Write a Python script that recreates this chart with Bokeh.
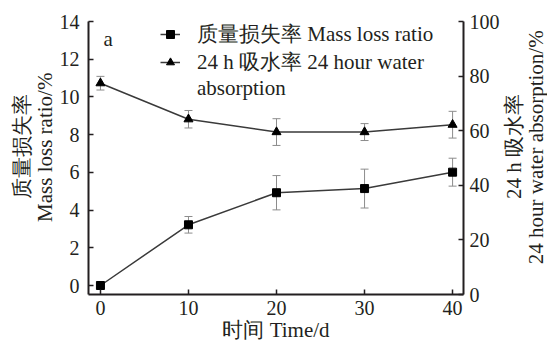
import math
from bokeh.plotting import figure
from bokeh.layouts import row
from bokeh.models import (Range1d, LinearAxis, FixedTicker, ColumnDataSource, Whisker,
                          TeeHead, Legend, LegendItem, Label)
from bokeh.embed import file_html
from bokeh.resources import INLINE

# ---- data ----
days = [0, 10, 20, 30, 40]
mass_loss = [0.0, 3.22, 4.92, 5.14, 6.01]
mass_err = [0.1, 0.44, 0.91, 1.03, 0.74]
water_abs = [77.4, 64.2, 59.5, 59.5, 62.2]
water_err = [2.5, 3.2, 4.9, 3.1, 4.9]

x_ticks = [0, 10, 20, 30, 40]
left_ticks = [0, 2, 4, 6, 8, 10, 12, 14]
right_ticks = [0, 20, 40, 60, 80, 100]

legend_labels = ["质量损失率 Mass loss ratio", "24 h 吸水率 24 hour water", "absorption"]
left_title = ["质量损失率", "Mass loss ratio/%"]
right_title = ["24 h 吸水率", "24 hour water absorption/%"]
x_title = "时间 Time/d"
panel_tag = "a"

FONT = "Liberation Serif"
AX = "#231f20"
LINE = "#3a3a3a"
ERR = "#8c8c8c"

W0, W1, W2 = 56, 446, 45      # left title strip, main plot, right title strip
H = 344

p = figure(width=W1, height=H, x_range=Range1d(-1.356, 41.24), y_range=Range1d(-0.477, 14),
           output_backend="svg", toolbar_location=None,
           min_border_left=32, min_border_right=37, min_border_top=21, min_border_bottom=50)
p.extra_y_ranges = {"right": Range1d(0, 100)}
p.outline_line_color = None
p.xgrid.visible = False
p.ygrid.visible = False
p.background_fill_color = "white"
p.border_fill_color = "white"

raxis = LinearAxis(y_range_name="right")
p.add_layout(raxis, "right")

for ax, ticks in ((p.xaxis[0], x_ticks), (p.yaxis[0], left_ticks), (raxis, right_ticks)):
    ax.ticker = FixedTicker(ticks=ticks)
    ax.minor_tick_line_color = None
    ax.major_tick_in = 5
    ax.major_tick_out = 0
    ax.major_tick_line_color = AX
    ax.major_tick_line_width = 1.5
    ax.axis_line_color = AX
    ax.axis_line_width = 2
    ax.major_label_text_font = FONT
    ax.major_label_text_font_size = "20px"
    ax.major_label_text_color = AX
    ax.axis_label = None

p.xaxis[0].major_label_standoff = 6
p.yaxis[0].major_label_standoff = 9
raxis.major_label_standoff = 6

xa = p.xaxis[0]
xa.axis_label = x_title
xa.axis_label_text_font = FONT
xa.axis_label_text_font_style = "normal"
xa.axis_label_text_font_size = "21px"
xa.axis_label_text_color = AX
xa.axis_label_standoff = 0

ms = ColumnDataSource(dict(x=days, y=mass_loss,
                           lo=[v - e for v, e in zip(mass_loss, mass_err)],
                           hi=[v + e for v, e in zip(mass_loss, mass_err)]))
ws = ColumnDataSource(dict(x=days, y=water_abs,
                           lo=[v - e for v, e in zip(water_abs, water_err)],
                           hi=[v + e for v, e in zip(water_abs, water_err)]))

def whisk(src, **kw):
    return Whisker(source=src, base="x", lower="lo", upper="hi", dimension="height",
                   line_color=ERR, line_width=1,
                   upper_head=TeeHead(size=8, line_color=ERR, line_width=1),
                   lower_head=TeeHead(size=8, line_color=ERR, line_width=1), **kw)

p.add_layout(whisk(ms))
p.add_layout(whisk(ws, y_range_name="right"))

l1 = p.line("x", "y", source=ms, line_color=LINE, line_width=1.5)
s1 = p.scatter("x", "y", source=ms, marker="square", size=8, fill_color="black", line_color="black")
l2 = p.line("x", "y", source=ws, line_color=LINE, line_width=1.5, y_range_name="right")
s2 = p.scatter("x", "y", source=ws, marker="triangle", size=9, fill_color="black", line_color="black",
               y_range_name="right")
dummy = p.scatter(x=[], y=[], marker="square", fill_alpha=0, line_alpha=0)

legend = Legend(items=[LegendItem(label=legend_labels[0], renderers=[l1, s1]),
                       LegendItem(label=legend_labels[1], renderers=[l2, s2]),
                       LegendItem(label=legend_labels[2], renderers=[dummy])],
                location=(72, 193), orientation="vertical")
legend.label_text_font = FONT
legend.label_text_font_size = "21px"
legend.label_text_color = AX
legend.background_fill_alpha = 0
legend.border_line_alpha = 0
legend.padding = 0
legend.margin = 0
legend.spacing = 0
legend.glyph_width = 20
legend.glyph_height = 20
legend.label_height = 20
legend.label_standoff = 17
p.add_layout(legend, "center")

p.add_layout(Label(x=0.34, y=13.07, text=panel_tag, text_align="left", text_baseline="middle",
                   text_font=FONT, text_font_size="21px", text_color=AX))


def strip(w, h, x0, y0):
    """A bare figure whose data units are page pixels, used to hold the y-axis titles."""
    f = figure(width=w, height=h, x_range=Range1d(x0, x0 + w), y_range=Range1d(y0 + h, y0),
               output_backend="svg", toolbar_location=None,
               min_border=0, min_border_left=0, min_border_right=0,
               min_border_top=0, min_border_bottom=0)
    f.axis.visible = False
    f.grid.visible = False
    f.outline_line_color = None
    f.background_fill_color = "white"
    f.border_fill_color = "white"
    return f


def title_label(f, x, y, t, angle=0.0):
    f.add_layout(Label(x=x, y=y, text=t, angle=angle, text_align="center", text_baseline="middle",
                       text_font=FONT, text_font_size="21px", text_color=AX))


YC = 157.5  # vertical centre of the plotting frame, in page pixels
p0 = strip(W0, H, 0, 0)
title_label(p0, 21, YC, left_title[0], math.pi / 2)
title_label(p0, 44, YC + 1, left_title[1], math.pi / 2)

p2 = strip(W2, H, W0 + W1, 0)
title_label(p2, 513, YC, right_title[0], math.pi / 2)
title_label(p2, 535.5, YC + 1, right_title[1], math.pi / 2)

layout = row(p0, p, p2, spacing=0)

open("out.html", "w").write(file_html(layout, INLINE))
